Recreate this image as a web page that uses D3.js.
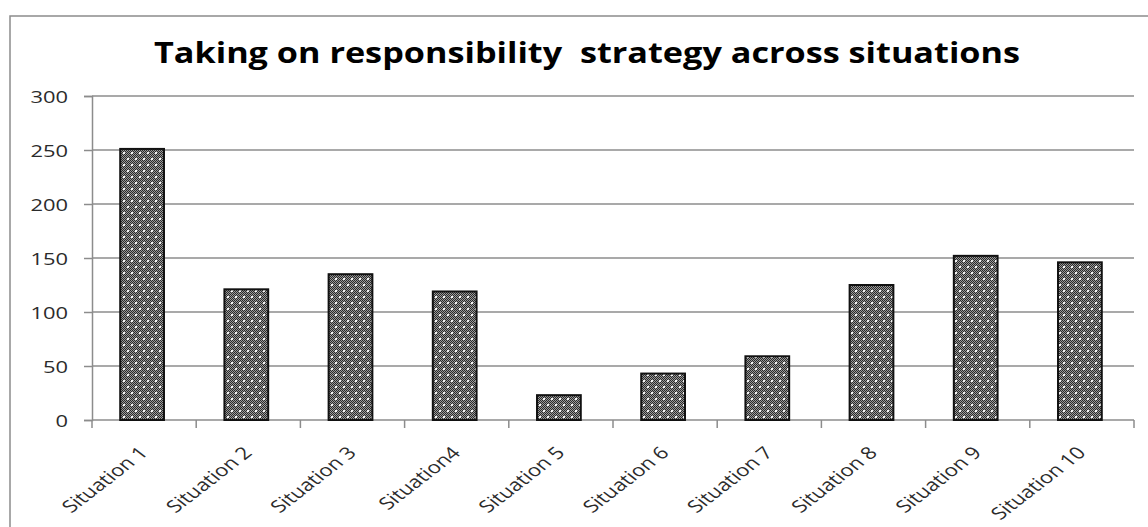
<!DOCTYPE html>
<html>
<head>
<meta charset="utf-8">
<script src="https://cdn.jsdelivr.net/npm/d3@7/dist/d3.min.js"></script>
<style>
  html, body { margin: 0; padding: 0; background: #fff; }
  svg { display: block; }
</style>
</head>
<body>
<script>
// Chart data
const categories = ["Situation 1", "Situation 2", "Situation 3", "Situation4", "Situation 5",
                    "Situation 6", "Situation 7", "Situation 8", "Situation 9", "Situation 10"];
const counts = [251, 121, 135, 119, 23, 43, 59, 125, 152, 146];
const yTicks = [0, 50, 100, 150, 200, 250, 300];
const titleText = "Taking on responsibility  strategy across situations";

const W = 1148, H = 527;
const plot = { left: 92, right: 1134, top: 96, bottom: 420 };
const stretch = 1.37; // wide glyph rendering

const svg = d3.select("body").append("svg").attr("width", W).attr("height", H);

// Fill pattern: fine dark checker with a lattice of light dots
const defs = svg.append("defs");
const fine = defs.append("pattern").attr("id", "fine")
  .attr("width", 2).attr("height", 2).attr("patternUnits", "userSpaceOnUse");
fine.append("rect").attr("width", 2).attr("height", 2).attr("fill", "#9a9a9a");
fine.append("rect").attr("width", 1).attr("height", 1).attr("fill", "#2a2a2a");
fine.append("rect").attr("x", 1).attr("y", 1).attr("width", 1).attr("height", 1).attr("fill", "#2a2a2a");
const dots = defs.append("pattern").attr("id", "dots")
  .attr("width", 8).attr("height", 12).attr("patternUnits", "userSpaceOnUse");
dots.append("rect").attr("width", 8).attr("height", 12).attr("fill", "url(#fine)");
dots.append("rect").attr("x", 1).attr("y", 2).attr("width", 2).attr("height", 2).attr("fill", "#f2f2f2");
dots.append("rect").attr("x", 5).attr("y", 8).attr("width", 2).attr("height", 2).attr("fill", "#f2f2f2");

// Outer chart frame
svg.append("rect").attr("x", 10).attr("y", 16).attr("width", 1300).attr("height", 700)
  .attr("fill", "none").attr("stroke", "#8c8c8c").attr("stroke-width", 1.5);

// Title
svg.append("text").attr("x", 587).attr("y", 63)
  .attr("text-anchor", "middle")
  .attr("font-family", "'Open Sans', sans-serif").attr("font-weight", 700)
  .attr("font-size", 28).attr("fill", "#000")
  .attr("textLength", 866).attr("lengthAdjust", "spacingAndGlyphs")
  .style("white-space", "pre")
  .text(titleText);

// Scales
const x = d3.scaleBand().domain(categories).range([plot.left, plot.right])
  .paddingInner(0.58).paddingOuter(0.29);
const y = d3.scaleLinear().domain([0, 300]).range([plot.bottom, plot.top]);

// Horizontal gridlines
svg.append("g").selectAll("line").data(yTicks.filter(d => d > 0)).join("line")
  .attr("x1", plot.left).attr("x2", plot.right)
  .attr("y1", d => y(d)).attr("y2", d => y(d))
  .attr("stroke", "#8c8c8c").attr("stroke-width", 1.5);

// Y axis
const yAxis = svg.append("g").attr("transform", `translate(${plot.left},0)`)
  .call(d3.axisLeft(y).tickValues(yTicks).tickSize(8).tickFormat(""));
yAxis.select(".domain").attr("stroke", "#8c8c8c").attr("stroke-width", 1.5);
yAxis.selectAll(".tick line").attr("stroke", "#8c8c8c").attr("stroke-width", 1.5);

svg.append("g").selectAll("text").data(yTicks).join("text")
  .attr("transform", d => `matrix(${stretch},0,0,1,68,${y(d) + 7})`)
  .attr("text-anchor", "end")
  .attr("font-family", "'Open Sans', sans-serif").attr("font-size", 16)
  .attr("fill", "#2b2b2b")
  .text(d => d);

// X axis with ticks at category boundaries
const xAxisG = svg.append("g").attr("transform", `translate(0,${plot.bottom})`);
xAxisG.append("line").attr("x1", plot.left).attr("x2", plot.right)
  .attr("stroke", "#8c8c8c").attr("stroke-width", 1.5);
const boundaries = categories.map(c => x(c) - x.step() * x.paddingInner() / 2)
  .concat([plot.right]);
xAxisG.selectAll("line.tk").data(boundaries).join("line").attr("class", "tk")
  .attr("x1", d => d).attr("x2", d => d).attr("y1", 0).attr("y2", 8)
  .attr("stroke", "#8c8c8c").attr("stroke-width", 1.5);

// Bars
svg.append("g").attr("transform", "translate(-2,0)")
  .selectAll("rect").data(categories).join("rect")
  .attr("x", d => x(d))
  .attr("width", x.bandwidth())
  .attr("y", (d, i) => y(counts[i]))
  .attr("height", (d, i) => y(0) - y(counts[i]))
  .attr("fill", "url(#dots)")
  .attr("stroke", "#111").attr("stroke-width", 2);

// Rotated (-45deg) and horizontally widened category labels
const c45 = Math.SQRT1_2;
const labelStretch = 1.3;
svg.append("g").selectAll("text").data(categories).join("text")
  .attr("transform", d => `matrix(${labelStretch * c45},${-c45},${labelStretch * c45},${c45},${x(d) + x.bandwidth() / 2 + 5},454)`)
  .attr("text-anchor", "end")
  .attr("font-family", "'Open Sans', sans-serif").attr("font-size", 17)
  .attr("fill", "#2b2b2b")
  .text(d => d);
</script>
</body>
</html>
